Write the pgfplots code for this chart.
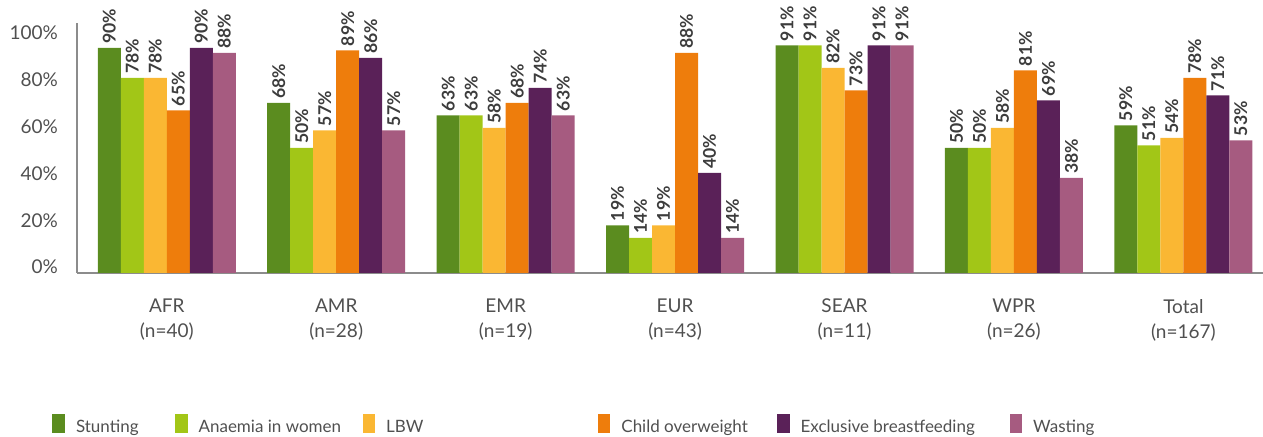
\documentclass[border=0pt]{standalone}
\usepackage{fontspec}
\setmainfont{Lato}
\usepackage{pgfplots}
\pgfplotsset{compat=1.18}
\definecolor{cStunt}{HTML}{5B8C1F}
\definecolor{cAnaem}{HTML}{A2C617}
\definecolor{cLBW}{HTML}{FAB733}
\definecolor{cOver}{HTML}{EE7D0C}
\definecolor{cExcl}{HTML}{5A2158}
\definecolor{cWast}{HTML}{A65B80}
\definecolor{txt}{HTML}{505050}
\definecolor{lbl}{HTML}{3C3C3C}
\definecolor{axl}{HTML}{8C8C8C}
\begin{document}
\begin{tikzpicture}
\begin{axis}[
  width=593pt, height=125pt, scale only axis,
  xmin=-0.53, xmax=6.47, ymin=0, ymax=100,
  ybar=0pt, bar width=11.5pt,
  axis lines*=left,
  axis line style={axl, line width=0.9pt},
  xtick={0,1,2,3,4,5,6},
  xticklabels={{AFR\\(n=40)},{AMR\\(n=28)},{EMR\\(n=19)},{EUR\\(n=43)},{SEAR\\(n=11)},{WPR\\(n=26)},{Total\\(n=167)}},
  xticklabel style={align=center, font=\fontsize{9.5}{12.5}\selectfont, text=txt, yshift=-9.5pt},
  ytick={2.4,20.8,39.6,58.4,77.2,96},
  yticklabels={0\%,20\%,40\%,60\%,80\%,100\%},
  yticklabel style={font=\fontsize{9.5}{11}\selectfont, text=txt, xshift=-6pt},
  major tick length=0pt,
  /pgf/number format/assume math mode=true,
  nodes near coords={\pgfmathprintnumber{\pgfplotspointmeta}\%},
  every node near coord/.append style={rotate=90, anchor=west, inner sep=0pt, inner xsep=2pt, font=\bfseries\fontsize{8.8}{9}\selectfont, text=lbl},
  legend image code/.code={\fill[#1] (0pt,-2.5pt) rectangle (6.3pt,7pt);},
  legend style={draw=none, fill=none, inner sep=0pt, at={(0,0)}, anchor=west, xshift=-12.5pt, yshift=-76pt,
    font=\fontsize{8.5}{10}\selectfont, text=txt, nodes={inner sep=0pt},
    /tikz/every odd column/.append style={column sep=5.5pt},
    /tikz/every even column/.append style={column sep=0pt}},
  legend columns=-1,
]
\addplot[fill=cStunt, draw=none] coordinates {(0,90) (1,68) (2,63) (3,19) (4,91) (5,50) (6,59)};
\addlegendentry{\makebox[49.5pt][l]{Stunting}}
\addplot[fill=cAnaem, draw=none] coordinates {(0,78) (1,50) (2,63) (3,14) (4,91) (5,50) (6,51)};
\addlegendentry{\makebox[82pt][l]{Anaemia in women}}
\addplot[fill=cLBW, draw=none] coordinates {(0,78) (1,57) (2,58) (3,19) (4,82) (5,58) (6,54)};
\addlegendentry{\makebox[105.8pt][l]{LBW}}
\addplot[fill=cOver, draw=none] coordinates {(0,65) (1,89) (2,68) (3,88) (4,73) (5,81) (6,78)};
\addlegendentry{\makebox[77.8pt][l]{Child overweight}}
\addplot[fill=cExcl, draw=none] coordinates {(0,90) (1,86) (2,74) (3,40) (4,91) (5,69) (6,71)};
\addlegendentry{\makebox[104.5pt][l]{Exclusive breastfeeding}}
\addplot[fill=cWast, draw=none] coordinates {(0,88) (1,57) (2,63) (3,14) (4,91) (5,38) (6,53)};
\addlegendentry{Wasting}
\end{axis}
\pgfresetboundingbox
\path[use as bounding box] ([xshift=-38.5pt,yshift=-82pt]current axis.south west) rectangle ([yshift=11.5pt]current axis.north east);
\end{tikzpicture}
\end{document}
